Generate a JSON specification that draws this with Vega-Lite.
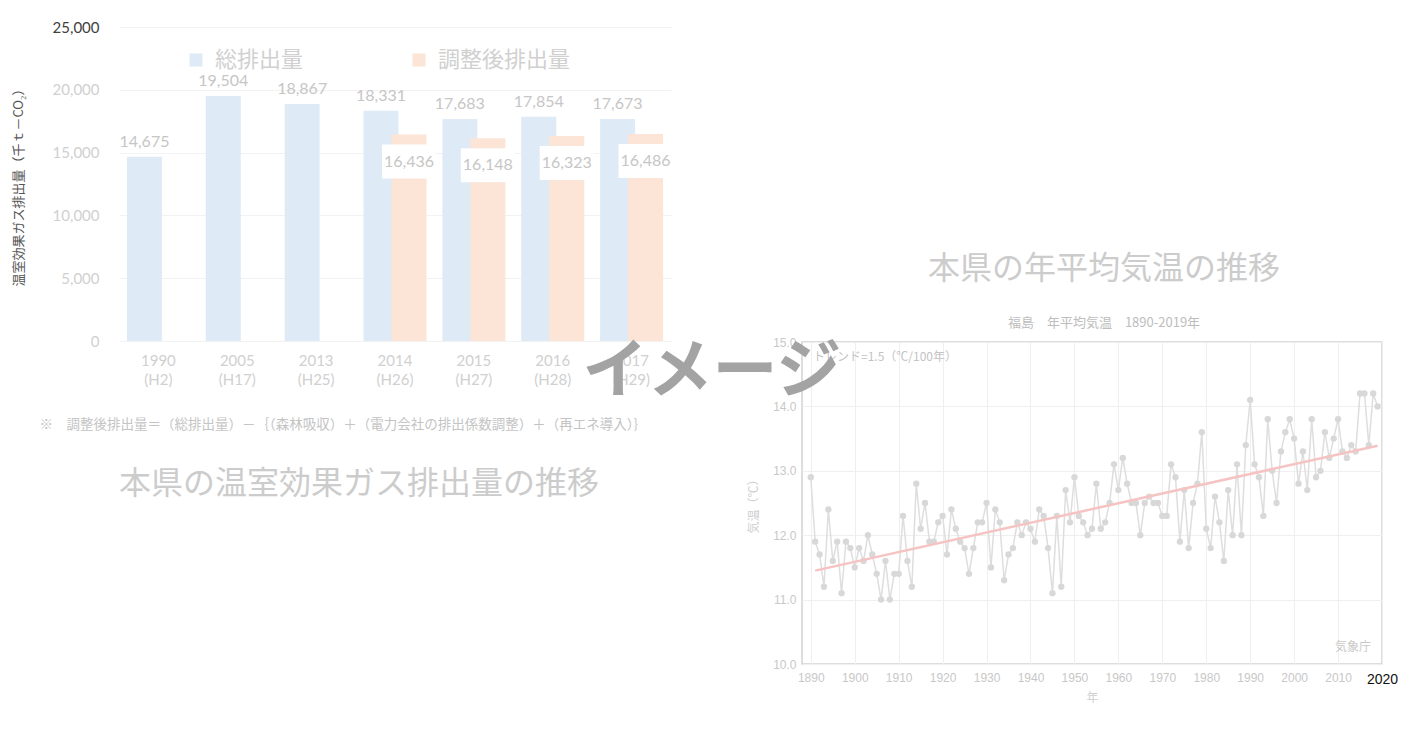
{
  "$schema": "https://vega.github.io/schema/vega-lite/v6.json",
  "background": "white",
  "padding": {"left": 12, "top": 20, "right": 5, "bottom": 5},
  "config": {"view": {"stroke": null}, "font": "Noto Sans CJK JP"},
  "bounds": "flush",
  "spacing": 131,
  "datasets": {
    "emissions": [
      {"year": "1990 (H2)", "series": "総排出量", "value": 14675},
      {"year": "2005 (H17)", "series": "総排出量", "value": 19504},
      {"year": "2013 (H25)", "series": "総排出量", "value": 18867},
      {"year": "2014 (H26)", "series": "総排出量", "value": 18331},
      {"year": "2015 (H27)", "series": "総排出量", "value": 17683},
      {"year": "2016 (H28)", "series": "総排出量", "value": 17854},
      {"year": "2017 (H29)", "series": "総排出量", "value": 17673},
      {"year": "2014 (H26)", "series": "調整後排出量", "value": 16436},
      {"year": "2015 (H27)", "series": "調整後排出量", "value": 16148},
      {"year": "2016 (H28)", "series": "調整後排出量", "value": 16323},
      {"year": "2017 (H29)", "series": "調整後排出量", "value": 16486}
    ],
    "temps": [
      {"year": 1890, "temp": 12.9}, {"year": 1891, "temp": 11.9}, {"year": 1892, "temp": 11.7}, {"year": 1893, "temp": 11.2}, {"year": 1894, "temp": 12.4},
      {"year": 1895, "temp": 11.6}, {"year": 1896, "temp": 11.9}, {"year": 1897, "temp": 11.1}, {"year": 1898, "temp": 11.9}, {"year": 1899, "temp": 11.8},
      {"year": 1900, "temp": 11.5}, {"year": 1901, "temp": 11.8}, {"year": 1902, "temp": 11.6}, {"year": 1903, "temp": 12.0}, {"year": 1904, "temp": 11.7},
      {"year": 1905, "temp": 11.4}, {"year": 1906, "temp": 11.0}, {"year": 1907, "temp": 11.6}, {"year": 1908, "temp": 11.0}, {"year": 1909, "temp": 11.4},
      {"year": 1910, "temp": 11.4}, {"year": 1911, "temp": 12.3}, {"year": 1912, "temp": 11.6}, {"year": 1913, "temp": 11.2}, {"year": 1914, "temp": 12.8},
      {"year": 1915, "temp": 12.1}, {"year": 1916, "temp": 12.5}, {"year": 1917, "temp": 11.9}, {"year": 1918, "temp": 11.9}, {"year": 1919, "temp": 12.2},
      {"year": 1920, "temp": 12.3}, {"year": 1921, "temp": 11.7}, {"year": 1922, "temp": 12.4}, {"year": 1923, "temp": 12.1}, {"year": 1924, "temp": 11.9},
      {"year": 1925, "temp": 11.8}, {"year": 1926, "temp": 11.4}, {"year": 1927, "temp": 11.8}, {"year": 1928, "temp": 12.2}, {"year": 1929, "temp": 12.2},
      {"year": 1930, "temp": 12.5}, {"year": 1931, "temp": 11.5}, {"year": 1932, "temp": 12.4}, {"year": 1933, "temp": 12.2}, {"year": 1934, "temp": 11.3},
      {"year": 1935, "temp": 11.7}, {"year": 1936, "temp": 11.8}, {"year": 1937, "temp": 12.2}, {"year": 1938, "temp": 12.0}, {"year": 1939, "temp": 12.2},
      {"year": 1940, "temp": 12.1}, {"year": 1941, "temp": 11.9}, {"year": 1942, "temp": 12.4}, {"year": 1943, "temp": 12.3}, {"year": 1944, "temp": 11.8},
      {"year": 1945, "temp": 11.1}, {"year": 1946, "temp": 12.3}, {"year": 1947, "temp": 11.2}, {"year": 1948, "temp": 12.7}, {"year": 1949, "temp": 12.2},
      {"year": 1950, "temp": 12.9}, {"year": 1951, "temp": 12.3}, {"year": 1952, "temp": 12.2}, {"year": 1953, "temp": 12.0}, {"year": 1954, "temp": 12.1},
      {"year": 1955, "temp": 12.8}, {"year": 1956, "temp": 12.1}, {"year": 1957, "temp": 12.2}, {"year": 1958, "temp": 12.5}, {"year": 1959, "temp": 13.1},
      {"year": 1960, "temp": 12.7}, {"year": 1961, "temp": 13.2}, {"year": 1962, "temp": 12.8}, {"year": 1963, "temp": 12.5}, {"year": 1964, "temp": 12.5},
      {"year": 1965, "temp": 12.0}, {"year": 1966, "temp": 12.5}, {"year": 1967, "temp": 12.6}, {"year": 1968, "temp": 12.5}, {"year": 1969, "temp": 12.5},
      {"year": 1970, "temp": 12.3}, {"year": 1971, "temp": 12.3}, {"year": 1972, "temp": 13.1}, {"year": 1973, "temp": 12.9}, {"year": 1974, "temp": 11.9},
      {"year": 1975, "temp": 12.7}, {"year": 1976, "temp": 11.8}, {"year": 1977, "temp": 12.5}, {"year": 1978, "temp": 12.8}, {"year": 1979, "temp": 13.6},
      {"year": 1980, "temp": 12.1}, {"year": 1981, "temp": 11.8}, {"year": 1982, "temp": 12.6}, {"year": 1983, "temp": 12.2}, {"year": 1984, "temp": 11.6},
      {"year": 1985, "temp": 12.7}, {"year": 1986, "temp": 12.0}, {"year": 1987, "temp": 13.1}, {"year": 1988, "temp": 12.0}, {"year": 1989, "temp": 13.4},
      {"year": 1990, "temp": 14.1}, {"year": 1991, "temp": 13.1}, {"year": 1992, "temp": 12.9}, {"year": 1993, "temp": 12.3}, {"year": 1994, "temp": 13.8},
      {"year": 1995, "temp": 13.0}, {"year": 1996, "temp": 12.5}, {"year": 1997, "temp": 13.3}, {"year": 1998, "temp": 13.6}, {"year": 1999, "temp": 13.8},
      {"year": 2000, "temp": 13.5}, {"year": 2001, "temp": 12.8}, {"year": 2002, "temp": 13.3}, {"year": 2003, "temp": 12.7}, {"year": 2004, "temp": 13.8},
      {"year": 2005, "temp": 12.9}, {"year": 2006, "temp": 13.0}, {"year": 2007, "temp": 13.6}, {"year": 2008, "temp": 13.2}, {"year": 2009, "temp": 13.5},
      {"year": 2010, "temp": 13.8}, {"year": 2011, "temp": 13.3}, {"year": 2012, "temp": 13.2}, {"year": 2013, "temp": 13.4}, {"year": 2014, "temp": 13.3},
      {"year": 2015, "temp": 14.2}, {"year": 2016, "temp": 14.2}, {"year": 2017, "temp": 13.4}, {"year": 2018, "temp": 14.2}, {"year": 2019, "temp": 14.0}
    ],
    "trend": [
      {"year": 1891, "temp": 11.45},
      {"year": 2019, "temp": 13.39}
    ]
  },
  "hconcat": [
    {
      "width": 552,
      "height": 314,
      "data": {"name": "emissions"},
      "title": {"text": "本県の温室効果ガス排出量の推移", "orient": "bottom", "anchor": "start", "frame": "group", "fontSize": 32, "fontWeight": "normal", "color": "#cccccc", "offset": 38, "font": "Noto Sans CJK JP"},
      "encoding": {
        "x": {
          "field": "year", "type": "nominal", "sort": null,
          "scale": {"paddingInner": 0, "paddingOuter": 0},
          "axis": {
            "title": "※　調整後排出量＝（総排出量）－｛（森林吸収）＋（電力会社の排出係数調整）＋（再エネ導入）｝",
            "titleAnchor": "start", "titleX": -80, "titleFontSize": 13.5, "titleFontWeight": "normal", "titleColor": "#c4c4c4", "titlePadding": 30,
            "labelAngle": 0, "labelExpr": "split(datum.value, ' ')", "labelFont": "Lato", "labelFontSize": 15, "labelColor": "#d0d0d0",
            "labelLineHeight": 19, "labelPadding": 12, "domain": false, "ticks": false, "grid": false
          }
        },
        "y": {
          "field": "value", "type": "quantitative",
          "scale": {"domain": [0, 25000], "nice": false},
          "axis": {
            "title": "温室効果ガス排出量（千ｔ－CO₂）", "titleFontSize": 13, "titleFontWeight": "normal", "titleColor": "#555555", "titlePadding": 27,
            "values": [0, 5000, 10000, 15000, 20000, 25000], "format": ",.0f",
            "labelFont": "Lato", "labelFontSize": 15,
            "labelColor": {"condition": {"test": "datum.value == 25000", "value": "#404040"}, "value": "#d0d0d0"},
            "labelPadding": 20, "domain": false, "ticks": false, "gridColor": "#f2f2f2"
          }
        }
      },
      "layer": [
        {
          "transform": [{"filter": "datum.series == '総排出量'"}],
          "mark": {"type": "bar", "width": 35, "xOffset": -14},
          "encoding": {
            "color": {
              "field": "series", "type": "nominal",
              "scale": {"domain": ["総排出量", "調整後排出量"], "range": ["#deebf7", "#fce4d6"]},
              "legend": {
                "title": null, "orient": "none", "legendX": 66, "legendY": 22, "direction": "horizontal",
                "symbolType": "square", "symbolSize": 170, "symbolStrokeWidth": 0, "symbolOpacity": 1,
                "labelFontSize": 22, "labelColor": "#d0d0d0", "labelFont": "Noto Sans CJK JP", "labelOffset": 8, "columnPadding": 104
              }
            }
          }
        },
        {
          "transform": [{"filter": "datum.series == '調整後排出量'"}],
          "mark": {"type": "bar", "width": 35, "xOffset": 14},
          "encoding": {"color": {"field": "series", "type": "nominal"}}
        },
        {
          "transform": [{"filter": "datum.series == '総排出量'"}],
          "mark": {"type": "text", "xOffset": -14, "dy": -15, "baseline": "middle", "font": "Lato", "fontSize": 16, "color": "#c6c6c6"},
          "encoding": {"text": {"field": "value", "type": "quantitative", "format": ","}}
        },
        {
          "transform": [{"filter": "datum.series == '調整後排出量'"}],
          "mark": {"type": "point", "shape": "M-1.35,-0.85H1.35V0.85H-1.35Z", "size": 1600, "filled": true, "color": "#ffffff", "opacity": 1, "strokeWidth": 0, "xOffset": 14, "yOffset": 27}
        },
        {
          "transform": [{"filter": "datum.series == '調整後排出量'"}],
          "mark": {"type": "text", "xOffset": 14, "yOffset": 27, "baseline": "middle", "font": "Lato", "fontSize": 16, "color": "#c6c6c6"},
          "encoding": {"text": {"field": "value", "type": "quantitative", "format": ","}}
        }
      ]
    },
    {
      "bounds": "flush",
      "spacing": 0,
      "vconcat": [
        {
          "width": 580,
          "height": 315,
          "data": {"values": [{}]},
          "mark": {"type": "text", "text": " "},
          "view": {"stroke": null}
        },
        {
          "width": 580,
          "height": 322,
          "view": {"stroke": "#d2d2d2", "strokeWidth": 1.5},
          "title": {
            "text": "本県の年平均気温の推移", "subtitle": "福島　年平均気温　1890-2019年",
            "anchor": "middle", "dx": 12, "fontSize": 32, "fontWeight": "normal", "color": "#cccccc", "font": "Noto Sans CJK JP",
            "subtitleFont": "Noto Sans CJK JP", "subtitleFontSize": 13, "subtitleColor": "#bdbdbd", "subtitlePadding": 31, "offset": 5
          },
          "layer": [
            {
              "data": {"name": "temps"},
              "mark": {"type": "line", "color": "#dedede", "strokeWidth": 1.5, "point": {"filled": true, "size": 40, "color": "#d8d8d8"}},
              "encoding": {
                "x": {
                  "field": "year", "type": "quantitative",
                  "scale": {"domain": [1888, 2020], "nice": false, "zero": false},
                  "axis": {
                    "title": "年", "titleFontSize": 12, "titleColor": "#cfcfcf", "titleFontWeight": "normal", "titlePadding": 6,
                    "values": [1890, 1900, 1910, 1920, 1930, 1940, 1950, 1960, 1970, 1980, 1990, 2000, 2010, 2020],
                    "format": "d", "labelFont": "Liberation Sans", "labelPadding": 8, "labelOverlap": false, "labelBound": false, "labelFlush": false,
                    "labelFontSize": {"condition": {"test": "datum.value == 2020", "value": 14}, "value": 12},
                    "labelColor": {"condition": {"test": "datum.value == 2020", "value": "#111111"}, "value": "#c8c8c8"},
                    "domain": false, "ticks": false, "gridColor": "#efefef"
                  }
                },
                "y": {
                  "field": "temp", "type": "quantitative",
                  "scale": {"domain": [10, 15], "nice": false, "zero": false},
                  "axis": {
                    "title": "気温（℃）", "titleFontSize": 12, "titleColor": "#cfcfcf", "titleFontWeight": "normal", "titlePadding": 12,
                    "values": [10, 10.5, 11, 11.5, 12, 12.5, 13, 13.5, 14, 14.5, 15],
                    "format": ".1f", "labelFont": "Liberation Sans", "labelFontSize": 12, "labelPadding": 6, "labelColor": "#c8c8c8",
                    "labelOverlap": false, "labelFlush": false,
                    "domain": false, "ticks": false, "gridColor": "#efefef"
                  }
                }
              }
            },
            {
              "data": {"name": "trend"},
              "mark": {"type": "line", "color": "#f6c3c3", "strokeWidth": 2.5},
              "encoding": {
                "x": {"field": "year", "type": "quantitative"},
                "y": {"field": "temp", "type": "quantitative"}
              }
            },
            {
              "data": {"values": [{}]},
              "mark": {"type": "text", "text": "トレンド=1.5（℃/100年）", "align": "left", "baseline": "middle", "fontSize": 12, "color": "#c4c4c4"},
              "encoding": {"x": {"datum": 1890.5, "type": "quantitative"}, "y": {"datum": 14.77, "type": "quantitative"}}
            },
            {
              "data": {"values": [{}]},
              "mark": {"type": "text", "text": "気象庁", "align": "right", "baseline": "middle", "fontSize": 12, "color": "#c8c8c8"},
              "encoding": {"x": {"datum": 2017.5, "type": "quantitative"}, "y": {"datum": 10.26, "type": "quantitative"}}
            },
            {
              "data": {"values": [{}]},
              "mark": {"type": "text", "text": "イメージ", "align": "center", "baseline": "middle", "fontSize": 65, "fontWeight": "bold", "color": "#a3a3a3", "font": "Noto Sans CJK JP"},
              "encoding": {"x": {"datum": 1867.5, "type": "quantitative"}, "y": {"datum": 14.54, "type": "quantitative"}}
            }
          ]
        }
      ]
    }
  ]
}
